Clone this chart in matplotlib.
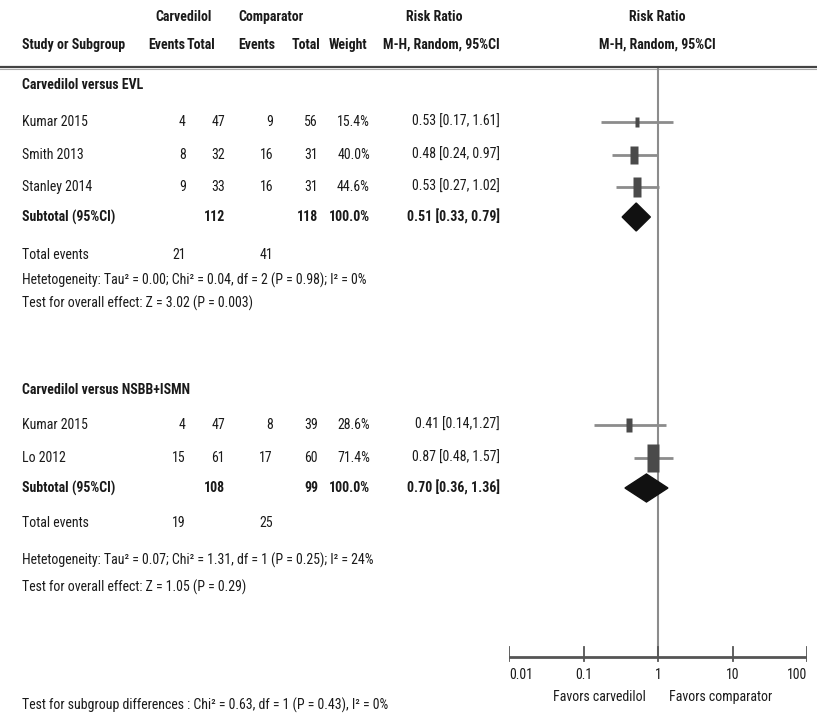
import matplotlib
matplotlib.use("Agg")
import matplotlib.pyplot as plt
from matplotlib import font_manager
from matplotlib.path import Path

# ---- data ----
evl_studies = ["Kumar 2015", "Smith 2013", "Stanley 2014"]
evl_carv_events = [4, 8, 9]
evl_carv_total = [47, 32, 33]
evl_comp_events = [9, 16, 16]
evl_comp_total = [56, 31, 31]
evl_weight = [15.4, 40.0, 44.6]
evl_rr = [0.53, 0.48, 0.53]
evl_lo = [0.17, 0.24, 0.27]
evl_hi = [1.61, 0.97, 1.02]
evl_ci_text = ["0.53 [0.17, 1.61]", "0.48 [0.24, 0.97]", "0.53 [0.27, 1.02]"]
evl_sub = dict(carv_total=112, comp_total=118, rr=0.51, lo=0.33, hi=0.79,
               carv_events=21, comp_events=41, text="0.51 [0.33, 0.79]")
evl_het = "Hetetogeneity: Tau\u00b2 = 0.00; Chi\u00b2 = 0.04, df = 2 (P = 0.98); I\u00b2 = 0%"
evl_test = "Test for overall effect: Z = 3.02 (P = 0.003)"

nsbb_studies = ["Kumar 2015", "Lo 2012"]
nsbb_carv_events = [4, 15]
nsbb_carv_total = [47, 61]
nsbb_comp_events = [8, 17]
nsbb_comp_total = [39, 60]
nsbb_weight = [28.6, 71.4]
nsbb_rr = [0.41, 0.87]
nsbb_lo = [0.14, 0.48]
nsbb_hi = [1.27, 1.57]
nsbb_ci_text = ["0.41 [0.14,1.27]", "0.87 [0.48, 1.57]"]
nsbb_sub = dict(carv_total=108, comp_total=99, rr=0.70, lo=0.36, hi=1.36,
                carv_events=19, comp_events=25, text="0.70 [0.36, 1.36]")
nsbb_het = "Hetetogeneity: Tau\u00b2 = 0.07; Chi\u00b2 = 1.31, df = 1 (P = 0.25); I\u00b2 = 24%"
nsbb_test = "Test for overall effect: Z = 1.05 (P = 0.29)"

subgroup_test = "Test for subgroup differences : Chi\u00b2 = 0.63, df = 1 (P = 0.43), I\u00b2 = 0%"
ticks = [0.01, 0.1, 1, 10, 100]
tick_labels = ["0.01", "0.1", "1", "10", "100"]

# ---- layout (pixels) ----
W, H = 817, 724
installed = {f.name for f in font_manager.fontManager.ttflist}
narrow = [f for f in ["Liberation Sans Narrow", "Roboto Condensed",
                      "DejaVu Sans Condensed", "Roboto"] if f in installed]
FONT = narrow[:1] + ["DejaVu Sans"]
FS = 10
TXT = "#1a1a1a"
col_x = [186, 225, 273, 318, 370, 500]  # right edges of numeric columns

fig = plt.figure(figsize=(W / 100, H / 100), dpi=100)
tx = fig.add_axes([0, 0, 1, 1])
tx.set_xlim(0, W)
tx.set_ylim(H, 0)
tx.axis("off")

x0, x1 = 509, 807
fx = fig.add_axes([x0 / W, 0, (x1 - x0) / W, 1])
fx.set_xscale("log")
fx.set_xlim(0.01, 100)
fx.set_ylim(H, 0)
fx.axis("off")


def t(x, y, s, ha="left", bold=False, ax=tx, size=FS):
    ax.text(x, y, s, ha=ha, va="center", family=FONT, fontsize=size,
            fontweight="bold" if bold else "normal", color=TXT)


# headers
t(184, 17, "Carvedilol", ha="center", bold=True)
t(271, 17, "Comparator", ha="center", bold=True)
t(434, 17, "Risk Ratio", ha="center", bold=True)
t(657, 17, "Risk Ratio", ha="center", bold=True)
t(22, 45, "Study or Subgroup", bold=True)
for x, s in zip([185, 215, 275, 320, 367, 500],
                ["Events", "Total", "Events", "Total", "Weight", "M-H, Random, 95%CI"]):
    t(x, 45, s, ha="right", bold=True)
t(657, 45, "M-H, Random, 95%CI", ha="center", bold=True)
tx.plot([0, W], [67, 67], color="#444444", lw=1.6)
tx.plot([0, W], [69, 69], color="#aaaaaa", lw=0.8)

# rect marker, taller than wide
rect = Path([(-0.22, -0.5), (0.22, -0.5), (0.22, 0.5), (-0.22, 0.5), (-0.22, -0.5)],
            [Path.MOVETO, Path.LINETO, Path.LINETO, Path.LINETO, Path.CLOSEPOLY])


def group(title, y_title, ys, names, ce, ct, pe, pt, w, rr, lo, hi, ci_txt,
          sub, y_sub, y_tot, y_het, y_test, het, test):
    t(22, y_title, title, bold=True)
    for i, y in enumerate(ys):
        t(22, y, names[i])
        vals = [ce[i], ct[i], pe[i], pt[i], f"{w[i]:.1f}%", ci_txt[i]]
        for x, v in zip(col_x, vals):
            t(x, y, str(v), ha="right")
        fx.plot([lo[i], hi[i]], [y, y], color="#8c8c8c", lw=2.0,
                solid_capstyle="butt", zorder=2)
        h = 4.4 + 0.33 * w[i]
        fx.plot([rr[i]], [y], marker=rect, ms=h * 0.72, color="#4a4a4a",
                mec="none", zorder=3)
    t(22, y_sub, "Subtotal (95%CI)", bold=True)
    t(col_x[1], y_sub, str(sub["carv_total"]), ha="right", bold=True)
    t(col_x[3], y_sub, str(sub["comp_total"]), ha="right", bold=True)
    t(col_x[4], y_sub, "100.0%", ha="right", bold=True)
    t(col_x[5], y_sub, sub["text"], ha="right", bold=True)
    r, l, u = sub["rr"], sub["lo"], sub["hi"]
    fx.fill([l, r, u, r], [y_sub, y_sub - 14, y_sub, y_sub + 14],
            color="#111111", zorder=4)
    t(22, y_tot, "Total events")
    t(col_x[0], y_tot, str(sub["carv_events"]), ha="right")
    t(col_x[2], y_tot, str(sub["comp_events"]), ha="right")
    t(22, y_het, het)
    t(22, y_test, test)


group("Carvedilol versus EVL", 85, [122, 155, 187],
      evl_studies, evl_carv_events, evl_carv_total, evl_comp_events,
      evl_comp_total, evl_weight, evl_rr, evl_lo, evl_hi, evl_ci_text,
      evl_sub, 217, 255, 280, 303, evl_het, evl_test)
group("Carvedilol versus NSBB+ISMN", 390, [425, 458],
      nsbb_studies, nsbb_carv_events, nsbb_carv_total, nsbb_comp_events,
      nsbb_comp_total, nsbb_weight, nsbb_rr, nsbb_lo, nsbb_hi, nsbb_ci_text,
      nsbb_sub, 488, 523, 560, 587, nsbb_het, nsbb_test)

# reference line and axis
y_axis = 657
fx.plot([1, 1], [69, y_axis], color="#8c8c8c", lw=1.5, zorder=1)
fx.plot([0.01, 100], [y_axis, y_axis], color="#555555", lw=2.0)
for tk, lab in zip(ticks, tick_labels):
    fx.plot([tk, tk], [y_axis - 10, y_axis + 4], color="#555555", lw=1.3)
    ha = "left" if tk == ticks[0] else ("right" if tk == ticks[-1] else "center")
    t(tk, y_axis + 18, lab, ha=ha, ax=fx)
t(0.69, 697, "Favors carvedilol", ha="right", ax=fx)
t(1.4, 697, "Favors comparator", ha="left", ax=fx)

t(22, 705, subgroup_test)

fig.savefig("out.png", dpi=100)
